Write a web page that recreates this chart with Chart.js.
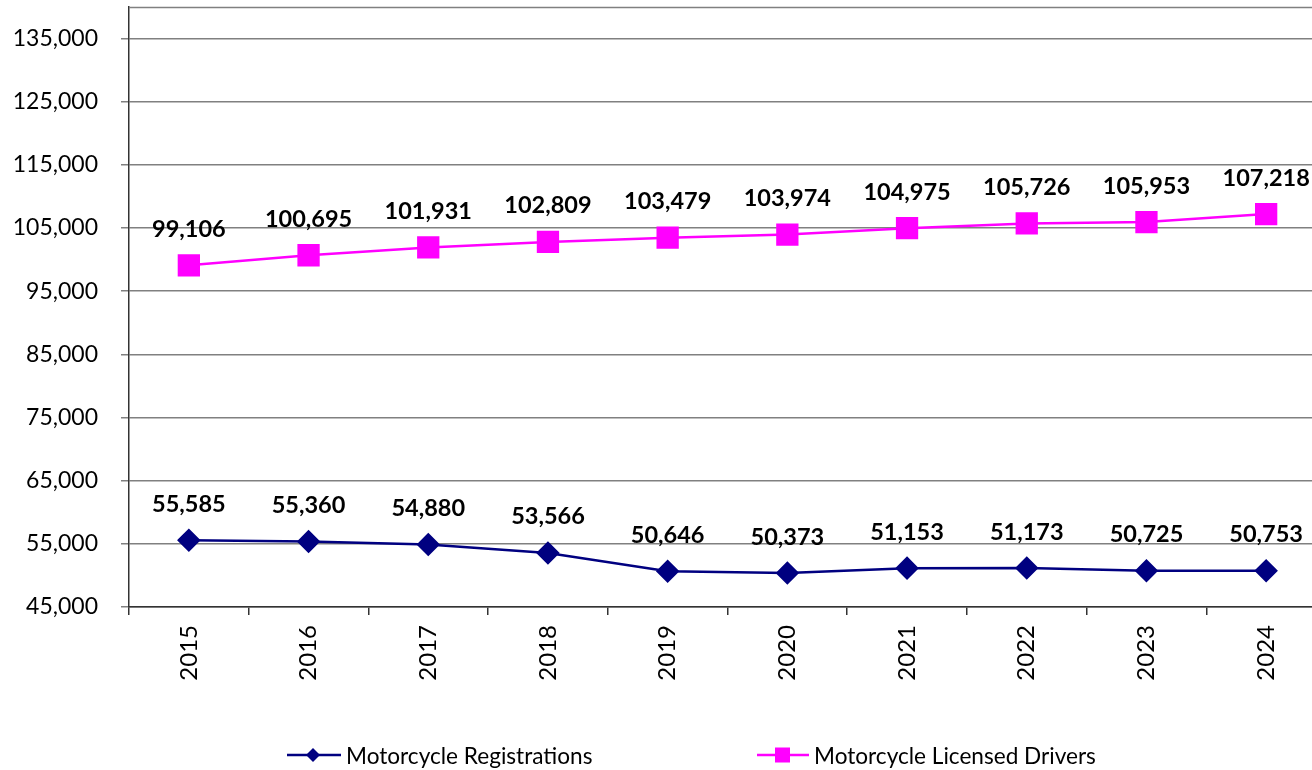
<!DOCTYPE html>
<html>
<head>
<meta charset="utf-8">
<script src="https://cdn.jsdelivr.net/npm/chart.js@4.4.1/dist/chart.umd.min.js"></script>
<style>
  html, body { margin: 0; padding: 0; background: #fff; overflow: hidden; width: 1312px; height: 770px; }
  #wrap { position: relative; width: 1312px; height: 770px; overflow: hidden; }
  canvas { position: absolute; left: 0; top: 0; }
  .leg { position: absolute; top: 740px; height: 30px; display: flex; align-items: center; font-family: Lato, sans-serif; font-size: 22.6px; color: #000; white-space: nowrap; }
  .leg svg { display: block; margin-right: 5px; }
</style>
</head>
<body>
<div id="wrap">
  <canvas id="c" width="1312" height="770"></canvas>
  <div class="leg" style="left:287px;">
    <svg width="54" height="20" viewBox="0 0 54 20"><line x1="0" y1="10" x2="54" y2="10" stroke="#000080" stroke-width="2.5"/><polygon points="26,3 33,10 26,17 19,10" fill="#000080"/></svg>
    <span>Motorcycle Registrations</span>
  </div>
  <div class="leg" style="left:757px;">
    <svg width="52" height="20" viewBox="0 0 52 20"><line x1="0" y1="10" x2="52" y2="10" stroke="#FF00FF" stroke-width="2.5"/><rect x="18" y="2.5" width="15" height="15" fill="#FF00FF"/></svg>
    <span>Motorcycle Licensed Drivers</span>
  </div>
</div>
<script>
const years = ['2015','2016','2017','2018','2019','2020','2021','2022','2023','2024'];
const registrations = [55585, 55360, 54880, 53566, 50646, 50373, 51153, 51173, 50725, 50753];
const licensedDrivers = [99106, 100695, 101931, 102809, 103479, 103974, 104975, 105726, 105953, 107218];
const yTicks = [45000, 55000, 65000, 75000, 85000, 95000, 105000, 115000, 125000, 135000];

const fmt = v => v.toLocaleString('en-US');

const dataLabels = {
  id: 'dataLabels',
  afterDatasetsDraw(chart) {
    const ctx = chart.ctx;
    ctx.save();
    ctx.font = 'bold 23.5px Lato, sans-serif';
    ctx.fillStyle = '#000';
    ctx.textAlign = 'center';
    ctx.textBaseline = 'middle';
    chart.data.datasets.forEach((ds, i) => {
      chart.getDatasetMeta(i).data.forEach((pt, j) => {
        ctx.fillText(fmt(ds.data[j]), pt.x, pt.y - 36);
      });
    });
    ctx.restore();
  }
};

const topBorder = {
  id: 'topBorder',
  beforeDatasetsDraw(chart) {
    const {ctx, chartArea} = chart;
    ctx.save();
    ctx.strokeStyle = '#808080';
    ctx.lineWidth = 1.5;
    ctx.beginPath();
    ctx.moveTo(chartArea.left, chartArea.top + 0.5);
    ctx.lineTo(chartArea.right, chartArea.top + 0.5);
    ctx.stroke();
    ctx.restore();
  }
};

// plot area continues past the right edge of the picture, as in the reference
const extendArea = {
  id: 'extendArea',
  afterLayout(chart) {
    const R = 1326;
    const ca = chart.chartArea;
    ca.right = R; ca.width = R - ca.left;
    const x = chart.scales.x;
    x.right = R; x.width = R - x.left;
    x.configure();
  }
};

const zeroPad = s => { s.paddingLeft = 0; s.paddingRight = 0; s.paddingTop = 0; s.paddingBottom = 0; };

new Chart(document.getElementById('c'), {
  type: 'line',
  data: {
    labels: years,
    datasets: [
      {
        label: 'Motorcycle Registrations',
        data: registrations,
        borderColor: '#000080',
        backgroundColor: '#000080',
        borderWidth: 2.5,
        pointStyle: 'rectRot',
        pointRadius: 10,
        pointHoverRadius: 10,
        tension: 0
      },
      {
        label: 'Motorcycle Licensed Drivers',
        data: licensedDrivers,
        borderColor: '#FF00FF',
        backgroundColor: '#FF00FF',
        borderWidth: 2.5,
        pointStyle: 'rect',
        pointRadius: 14,
        pointHoverRadius: 14,
        tension: 0
      }
    ]
  },
  options: {
    responsive: false,
    animation: false,
    layout: { autoPadding: false, padding: { top: 7, left: 0, right: 0, bottom: 0 } },
    plugins: { legend: { display: false }, tooltip: { enabled: false } },
    scales: {
      x: {
        offset: true,
        afterFit(s) { s.height = 163; zeroPad(s); },
        grid: { offset: true, drawOnChartArea: false, drawTicks: true, tickLength: 8, color: '#333', lineWidth: 1.5 },
        border: { display: true, color: '#333', width: 1.5 },
        ticks: { maxRotation: 90, minRotation: 90, padding: 10, color: '#000', font: { family: 'Lato, sans-serif', size: 24 } }
      },
      y: {
        min: 45000,
        max: 140000,
        afterFit(s) { s.width = 129; zeroPad(s); },
        afterBuildTicks(s) { s.ticks = yTicks.map(v => ({ value: v })); },
        grid: { color: '#808080', lineWidth: 1.5, drawTicks: true, tickLength: 8 },
        border: { display: true, color: '#333', width: 1.5 },
        ticks: { padding: 23, color: '#000', font: { family: 'Lato, sans-serif', size: 23 }, callback: v => fmt(v) }
      }
    }
  },
  plugins: [extendArea, dataLabels, topBorder]
});
</script>
</body>
</html>
